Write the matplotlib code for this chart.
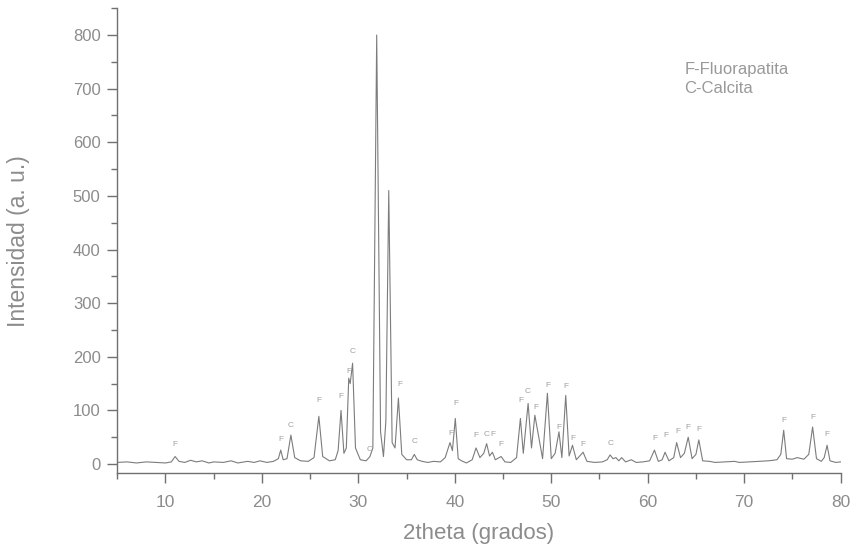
import matplotlib
matplotlib.use("Agg")
import matplotlib.pyplot as plt
from matplotlib.ticker import MultipleLocator

plt.rcParams['font.family'] = ['Liberation Sans', 'DejaVu Sans']

# trace: 2theta (deg) and intensity (a.u.)
two_theta = [
    5.0, 6.0, 7.0, 8.0, 9.0, 10.0, 10.6, 11.0, 11.4, 12.0, 12.6, 13.2, 13.8, 14.5,
    15.0, 16.0, 16.8, 17.5, 18.5, 19.2, 19.8, 20.5, 21.2, 21.7, 21.95, 22.2, 22.6,
    23.0, 23.4, 24.0, 24.8, 25.4, 25.9, 26.3, 27.0, 27.6, 27.9, 28.2, 28.5, 28.75,
    29.0, 29.15, 29.4, 29.7, 30.2, 30.8, 31.2, 31.5, 31.9, 32.3, 32.6, 32.85, 33.15,
    33.5, 33.8, 34.15, 34.5, 35.0, 35.5, 35.8, 36.1, 36.6, 37.2, 37.8, 38.5, 39.0,
    39.5, 39.75, 40.05, 40.35, 40.7, 41.2, 41.8, 42.2, 42.6, 43.0, 43.3, 43.6, 43.9,
    44.2, 44.8, 45.2, 45.8, 46.4, 46.8, 47.1, 47.6, 47.95, 48.3, 48.7, 49.1, 49.6,
    50.0, 50.4, 50.8, 51.1, 51.5, 51.85, 52.2, 52.6, 53.3, 53.7, 54.5, 55.3, 55.8,
    56.1, 56.4, 56.7, 57.0, 57.3, 57.7, 58.3, 58.8, 59.5, 60.2, 60.7, 61.1, 61.5,
    61.8, 62.2, 62.7, 63.0, 63.4, 63.8, 64.2, 64.6, 65.0, 65.3, 65.7, 66.4, 67.0,
    68.0, 69.0, 69.5, 70.5, 71.5, 72.5, 73.4, 73.8, 74.1, 74.4, 75.0, 75.5, 76.2,
    76.7, 77.1, 77.5, 78.0, 78.3, 78.6, 78.9, 79.5, 80.0,
]
intensity = [
    3, 4, 2, 4, 3, 2, 4, 14, 5, 3, 7, 4, 6, 2,
    4, 3, 6, 2, 5, 3, 6, 3, 5, 10, 26, 8, 10,
    54, 12, 6, 5, 12, 89, 14, 6, 8, 25, 100, 20, 30,
    160, 150, 188, 30, 8, 6, 14, 30, 800, 60, 14, 80, 510,
    40, 30, 123, 18, 8, 8, 18, 8, 5, 3, 5, 4, 12,
    40, 25, 85, 10, 6, 2, 8, 30, 12, 20, 38, 15, 22,
    8, 14, 4, 3, 12, 85, 20, 113, 30, 91, 50, 10, 132,
    10, 20, 60, 12, 128, 15, 35, 8, 22, 5, 3, 4, 8,
    17, 10, 12, 6, 12, 4, 8, 3, 4, 6, 26, 5, 8,
    22, 6, 12, 40, 12, 20, 50, 10, 18, 45, 6, 5, 3,
    4, 5, 3, 4, 5, 6, 8, 18, 63, 10, 9, 12, 9,
    18, 69, 10, 5, 12, 35, 6, 3, 4,
]

# phase marks above the peaks
mark_x = [11.0, 21.95, 23.0, 25.9, 28.2, 29.0, 29.4, 31.2, 34.3, 35.8, 39.6, 40.1,
          42.2, 43.3, 43.9, 44.8, 46.8, 47.6, 48.4, 49.6, 50.8, 51.5, 52.2, 53.3,
          56.2, 60.7, 61.9, 63.1, 64.2, 65.3, 74.1, 77.1, 78.6]
mark_y = [30, 40, 66, 112, 120, 166, 203, 20, 142, 35, 50, 106,
          46, 48, 48, 30, 112, 128, 98, 140, 62, 138, 42, 30,
          32, 42, 46, 54, 62, 58, 74, 80, 48]
mark_txt = ['F', 'F', 'C', 'F', 'F', 'F', 'C', 'C', 'F', 'C', 'F', 'F',
            'F', 'C', 'F', 'F', 'F', 'C', 'F', 'F', 'F', 'F', 'F', 'F',
            'C', 'F', 'F', 'F', 'F', 'F', 'F', 'F', 'F']

legend_lines = ['F-Fluorapatita', 'C-Calcita']

grey = '#8c8c8c'
axis_grey = '#707070'
fig = plt.figure(figsize=(8.56, 5.47), dpi=100)
ax = fig.add_axes([0.137, 0.135, 0.845, 0.85])

ax.plot(two_theta, intensity, color='#7c7c7c', linewidth=0.8)

for x, y, t in zip(mark_x, mark_y, mark_txt):
    ax.text(x, y, t, ha='center', va='bottom', fontsize=6, color='#a0a0a0')

ax.text(0.784, 0.885, '\n'.join(legend_lines), transform=ax.transAxes,
        ha='left', va='top', fontsize=12, color='#999999', linespacing=1.35)

ax.set_xlim(5, 80)
ax.xaxis.set_major_locator(MultipleLocator(10))
ax.xaxis.set_minor_locator(MultipleLocator(5))
ax.yaxis.set_major_locator(MultipleLocator(100))
ax.yaxis.set_minor_locator(MultipleLocator(50))

for s in ['top', 'right']:
    ax.spines[s].set_visible(False)
for s in ['left', 'bottom']:
    ax.spines[s].set_color(axis_grey)
    ax.spines[s].set_linewidth(1.0)

ax.tick_params(which='major', direction='out', length=7, width=1.0, color=axis_grey,
               labelcolor=grey)
ax.tick_params(which='minor', direction='out', length=4, width=1.0, color=axis_grey)
ax.tick_params(axis='x', labelsize=12.5, pad=9)
ax.tick_params(axis='y', labelsize=12, pad=5)
ax.set_ylim(-17, 850)
ax.set_yticks([0, 100, 200, 300, 400, 500, 600, 700, 800])

ax.set_xlabel('2theta (grados)', fontsize=16, color=grey, labelpad=9)
ax.set_ylabel('Intensidad (a. u.)', fontsize=16.5, color=grey)
ax.yaxis.set_label_coords(-0.12, 0.5)

fig.savefig('out.png', dpi=100)
